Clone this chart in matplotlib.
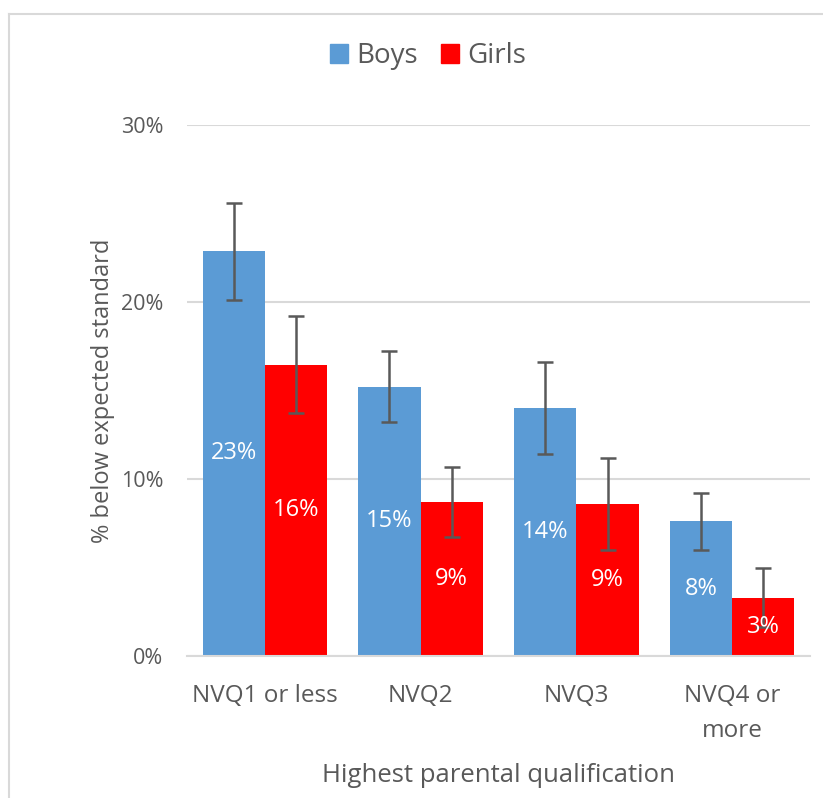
import numpy as np
import matplotlib
matplotlib.use("Agg")
from matplotlib import pyplot as plt
from matplotlib.lines import Line2D
from matplotlib.patches import Patch

categories = ["NVQ1 or less", "NVQ2", "NVQ3", "NVQ4 or\nmore"]
boys = [22.9, 15.2, 14.0, 7.6]
girls = [16.45, 8.7, 8.6, 3.3]
boys_err_hi = [25.6, 17.25, 16.6, 9.2]
boys_err_lo = [20.1, 13.2, 11.4, 6.0]
girls_err_hi = [19.2, 10.7, 11.2, 4.95]
girls_err_lo = [13.75, 6.7, 6.0, 1.65]
boys_labels = ["23%", "15%", "14%", "8%"]
girls_labels = ["16%", "9%", "9%", "3%"]

blue = "#5b9bd5"
red = "#ff0000"
grey = "#595959"

plt.rcParams["font.family"] = ["Open Sans", "DejaVu Sans"]

fig = plt.figure(figsize=(8.23, 7.98), dpi=100)
ax = fig.add_axes([187 / 823, 1 - 656 / 798, (810 - 187) / 823, (656 - 125) / 798])

x = np.arange(len(categories))
w = 0.4
boys = np.array(boys)
girls = np.array(girls)

ax.bar(x - w / 2, boys, w, color=blue, zorder=2)
ax.bar(x + w / 2, girls, w, color=red, zorder=2)

b_err = [boys - np.array(boys_err_lo), np.array(boys_err_hi) - boys]
g_err = [girls - np.array(girls_err_lo), np.array(girls_err_hi) - girls]
ax.errorbar(x - w / 2, boys, yerr=b_err, fmt="none", ecolor=grey,
            elinewidth=1.8, capsize=6, capthick=1.8, zorder=3)
ax.errorbar(x + w / 2, girls, yerr=g_err, fmt="none", ecolor=grey,
            elinewidth=1.8, capsize=6, capthick=1.8, zorder=3)

for i in range(len(categories)):
    ax.text(x[i] - w / 2, boys[i] / 2, boys_labels[i], color="white",
            ha="center", va="center", fontsize=17, zorder=4)
    ax.text(x[i] + w / 2, girls[i] / 2, girls_labels[i], color="white",
            ha="center", va="center", fontsize=17, zorder=4)

ax.set_xlim(-0.5, len(categories) - 0.5)
ax.set_ylim(0, 30)
ax.set_yticks([0, 10, 20, 30])
ax.set_yticklabels(["0%", "10%", "20%", "30%"])
ax.set_xticks(x)
ax.set_xticklabels(categories, linespacing=1.65)
ax.yaxis.grid(True, color="#d9d9d9", linewidth=1.5, zorder=0)
ax.set_axisbelow(True)
for s in ["top", "right", "left"]:
    ax.spines[s].set_visible(False)
ax.spines["bottom"].set_color("#d9d9d9")
ax.spines["bottom"].set_linewidth(1.5)
ax.tick_params(axis="both", length=0, colors=grey)
ax.tick_params(axis="x", pad=20, labelsize=17.5)
ax.tick_params(axis="y", pad=17, labelsize=15.5)

ax.set_ylabel("% below expected standard", fontsize=17, color=grey, labelpad=4)
ax.set_xlabel("Highest parental qualification", fontsize=18.5, color=grey, labelpad=14)

handles = [Patch(color=blue, label="Boys"), Patch(color=red, label="Girls")]
fig.legend(handles=handles, loc="center", bbox_to_anchor=(428 / 823, 1 - 56 / 798),
           ncol=2, frameon=False, fontsize=20, handlelength=0.65, handleheight=0.65,
           handletextpad=0.3, columnspacing=0.85, labelcolor=grey)

# chart area border (left and top edges visible)
fig.add_artist(Line2D([8.5 / 823, 8.5 / 823], [0, 1 - 13.5 / 798], color="#d9d9d9", lw=1.5))
fig.add_artist(Line2D([8.5 / 823, 1], [1 - 13.5 / 798, 1 - 13.5 / 798], color="#d9d9d9", lw=1.5))

fig.savefig("out.png", dpi=100, facecolor="white")
